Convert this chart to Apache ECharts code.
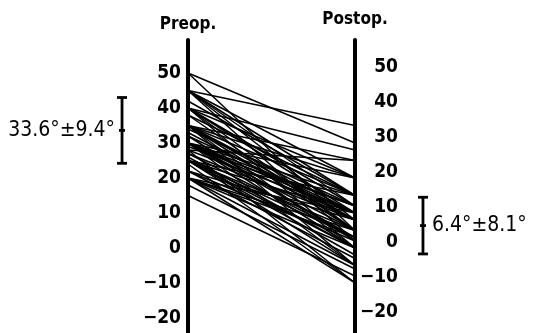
<!DOCTYPE html>
<html lang="en">

<head>
	<meta charset="UTF-8">
	<title>Preop / Postop</title>
	<script src="https://cdn.jsdelivr.net/npm/echarts@6/dist/echarts.min.js"></script>
	<style>
		html, body { margin: 0; padding: 0; background: #fff; }
	</style>
</head>

<body>
	<div id="main" style="width: 551px;height: 333px;"></div>

	<script>
		// angle of each patient before and after surgery (degrees)
		var preop = [50, 50, 45, 45, 45, 45, 45, 45, 42, 40, 40, 40, 40, 40, 40, 38, 38, 35, 35, 35, 35, 35, 35, 35, 35,
			34, 33, 32, 32, 30, 30, 30, 30, 30, 30, 30, 30, 30, 29, 28, 28, 28, 27, 27, 26, 25, 25, 25, 25, 25, 25, 25,
			24, 22, 22, 22, 20, 20, 20, 20, 20, 20, 18, 15];
		var postop = [30, 5, 35, 20, 15, 12, 8, 2, 15, 28, 20, 12, 10, 5, 0, 15, 5, 25, 20, 15, 10, 8, 5, 0, -5,
			12, 8, 10, 2, 20, 15, 12, 10, 8, 5, 3, 0, -5, 12, -10, 25, 10, 3, 8, 0, -2, 15, 10, 5, 3, 0, -5,
			-10, 8, 2, -3, 10, 5, 3, 0, -5, -10, -6, -8];
		var tickValues = [-20, -10, 0, 10, 20, 30, 40, 50];
		var preStat = [33.6, 9.4];   // mean, sd
		var postStat = [6.4, 8.1];

		var chartDom = document.getElementById('main');
		var myChart = echarts.init(chartDom);
		var font = "'DejaVu Sans Condensed', 'Liberation Sans Narrow', 'DejaVu Sans', sans-serif";

		function fmtTick(v) {
			return String(v).replace('-', '\u2212');
		}

		// error bar with its label, drawn beside an axis
		function errorBar(xPos, side) {
			return function (params, api) {
				var mean = api.value(0), sd = api.value(1);
				var top = api.coord([xPos, mean + sd]);
				var mid = api.coord([xPos, mean]);
				var bot = api.coord([xPos, mean - sd]);
				var st = { stroke: '#000', lineWidth: 2.8 };
				var cap = 5;
				return {
					type: 'group',
					children: [
						{ type: 'line', shape: { x1: top[0], y1: top[1], x2: bot[0], y2: bot[1] }, style: st },
						{ type: 'line', shape: { x1: top[0] - cap, y1: top[1], x2: top[0] + cap, y2: top[1] }, style: st },
						{ type: 'line', shape: { x1: bot[0] - cap, y1: bot[1], x2: bot[0] + cap, y2: bot[1] }, style: st },
						{ type: 'line', shape: { x1: mid[0] - 3, y1: mid[1], x2: mid[0] + 3, y2: mid[1] }, style: st },
						{
							type: 'text',
							x: side === 'left' ? mid[0] - 7 : mid[0] + 9,
							y: mid[1],
							style: {
								text: mean.toFixed(1) + '\u00b0\u00b1' + sd.toFixed(1) + '\u00b0',
								font: '21px ' + font,
								fill: '#000',
								align: side === 'left' ? 'right' : 'left',
								verticalAlign: 'middle'
							}
						}
					]
				};
			};
		}

		var seriesList = [];
		for (var i = 0; i < preop.length; i++) {
			seriesList.push({
				type: 'line',
				data: [[0, preop[i]], [1, postop[i]]],
				showSymbol: false,
				symbol: 'none',
				silent: true,
				lineStyle: { color: '#000', width: 1.5 }
			});
		}
		seriesList.push({
			type: 'custom',
			clip: false,
			dimensions: ['mean', 'sd'],
			encode: { y: 'mean' },
			data: [preStat],
			renderItem: errorBar(-0.395, 'left')
		});
		seriesList.push({
			type: 'custom',
			clip: false,
			dimensions: ['mean', 'sd'],
			encode: { y: 'mean' },
			data: [postStat],
			renderItem: errorBar(1.407, 'right')
		});

		var axisName = {
			fontFamily: font,
			fontWeight: 'bold',
			fontSize: 17,
			color: '#000',
			align: 'center',
			verticalAlign: 'middle'
		};

		var option = {
			animation: false,
			grid: { left: 188, right: 196, top: 40, bottom: 0 },
			xAxis: {
				type: 'value',
				min: 0,
				max: 1,
				show: false
			},
			yAxis: [
				{
					type: 'value',
					position: 'left',
					min: -24.29,
					max: 59.43,
					name: 'Preop.',
					nameLocation: 'end',
					nameGap: 15,
					nameTextStyle: axisName,
					axisLine: { show: true, onZero: false, lineStyle: { color: '#000', width: 4 } },
					axisTick: { show: false },
					splitLine: { show: false },
					axisLabel: {
						customValues: tickValues,
						formatter: fmtTick,
						margin: 7,
						fontFamily: font,
						fontWeight: 'bold',
						fontSize: 19,
						color: '#000'
					}
				},
				{
					type: 'value',
					position: 'right',
					min: -26.0,
					max: 57.7,
					name: 'Postop.',
					nameLocation: 'end',
					nameGap: 20,
					nameTextStyle: axisName,
					axisLine: { show: true, onZero: false, lineStyle: { color: '#000', width: 4 } },
					axisTick: { show: false },
					splitLine: { show: false },
					axisLabel: {
						customValues: tickValues,
						formatter: fmtTick,
						margin: 43,
						align: 'right',
						fontFamily: font,
						fontWeight: 'bold',
						fontSize: 19,
						color: '#000'
					}
				}
			],
			series: seriesList
		};

		myChart.setOption(option);
	</script>
</body>

</html>
